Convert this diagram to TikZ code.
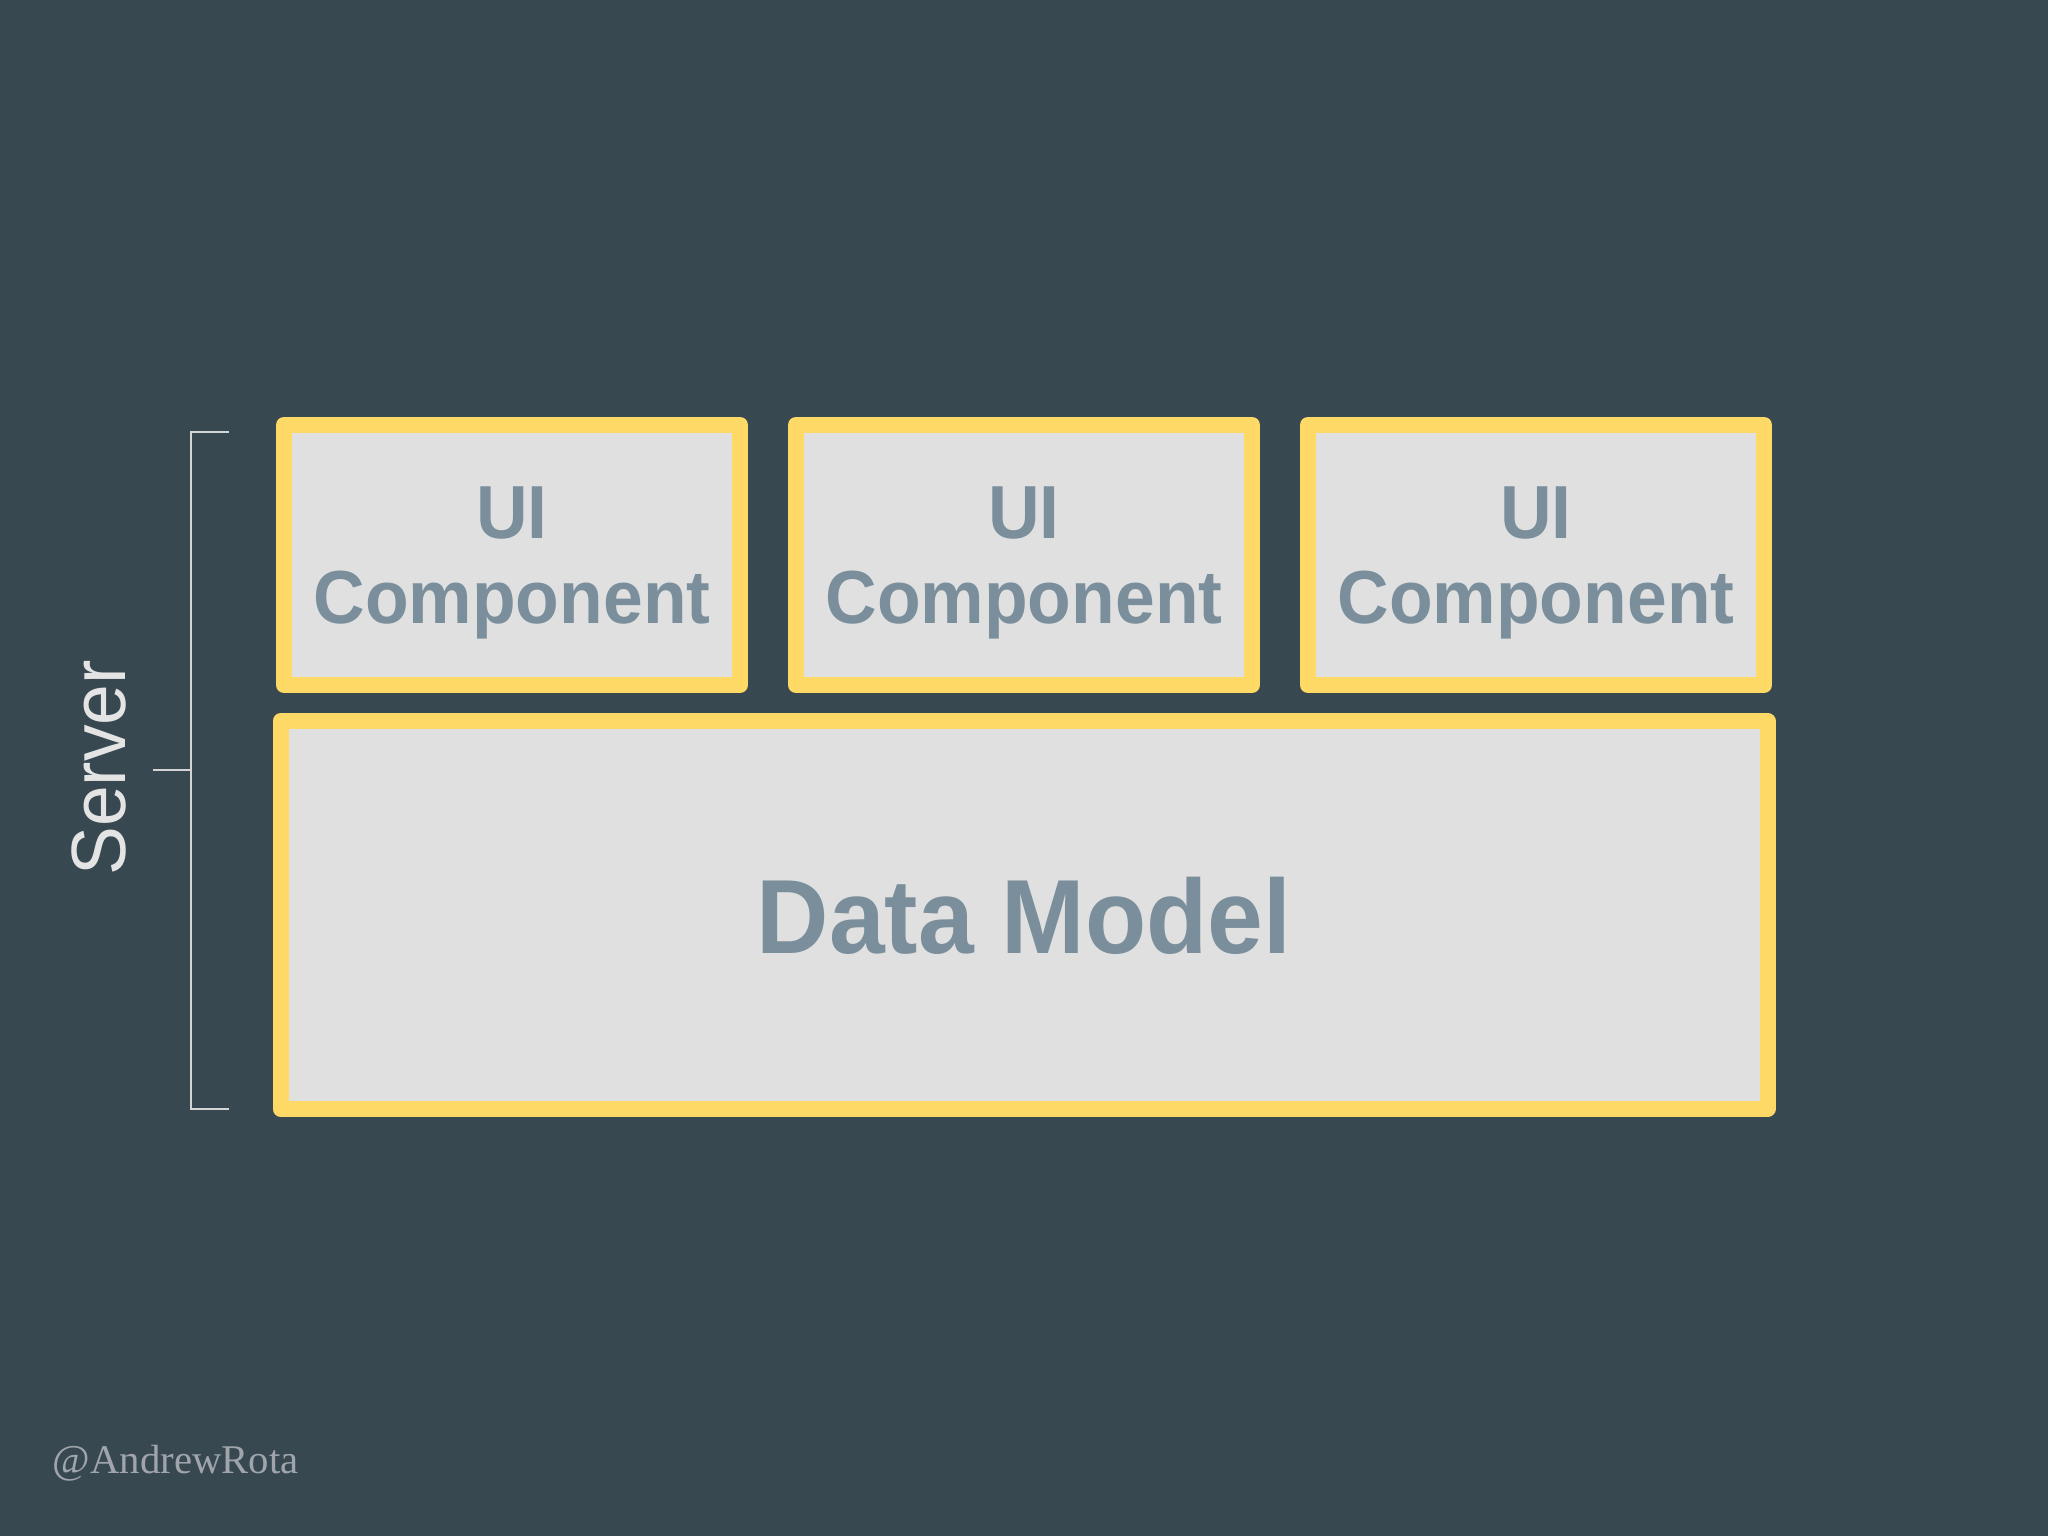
\documentclass[tikz,border=0pt]{standalone}
\usepackage{fontspec}
\setmainfont{Liberation Sans}[FakeStretch=0.95]
\newfontfamily\handlefont{Liberation Serif}
\usetikzlibrary{positioning}
\definecolor{slate}{HTML}{384850}
\definecolor{boxyellow}{HTML}{FFD966}
\definecolor{boxgrey}{HTML}{E0E0E0}
\definecolor{labelgrey}{HTML}{7A8F9B}
\definecolor{servergrey}{HTML}{E4E4E4}
\definecolor{bracketgrey}{HTML}{D5D5D5}
\definecolor{handlegrey}{HTML}{A0A5AC}

\begin{document}
\begin{tikzpicture}[
  uibox/.style={draw=boxyellow, fill=boxgrey, line width=0.16cm, line join=round,
    minimum width=4.56cm, minimum height=2.6cm, inner sep=0pt, align=center,
    text depth=0pt, text=labelgrey, font=\bfseries\fontsize{21.4}{24.2}\selectfont},
  modelbox/.style={uibox, minimum width=14.87cm, minimum height=3.88cm,
    font=\bfseries\fontsize{30}{33}\selectfont},
  bracket/.style={draw=bracketgrey, line width=0.6pt}]
\fill[slate] (0,0) rectangle (20.48,15.36);
\useasboundingbox (0,0) rectangle (20.48,15.36);
\node[uibox] (ui1) at (5.12,9.81) {UI\\Component};
\node[uibox, right=0.4cm of ui1] (ui2) {UI\\Component};
\node[uibox, right=0.4cm of ui2] (ui3) {UI\\Component};
\node[modelbox, below=0.2cm of ui2] (model) {Data Model};
\node[rotate=90, text=servergrey, font=\fontsize{21.9}{26}\selectfont] (server) at (0.99,7.68) {Server};
\coordinate (btop) at (2.29,11.04);
\coordinate (bbot) at (2.29,4.27);
\coordinate (bmid) at (1.53,7.66);
\draw[bracket] (btop) -- ++(-0.38,0) |- (bbot);
\draw[bracket] (bmid) -- ++(0.38,0);
\node[anchor=base west, inner sep=0pt, text=handlegrey, font=\handlefont\fontsize{11.6}{14}\selectfont] (handle) at (0.52,0.62) {@AndrewRota};
\end{tikzpicture}
\end{document}
